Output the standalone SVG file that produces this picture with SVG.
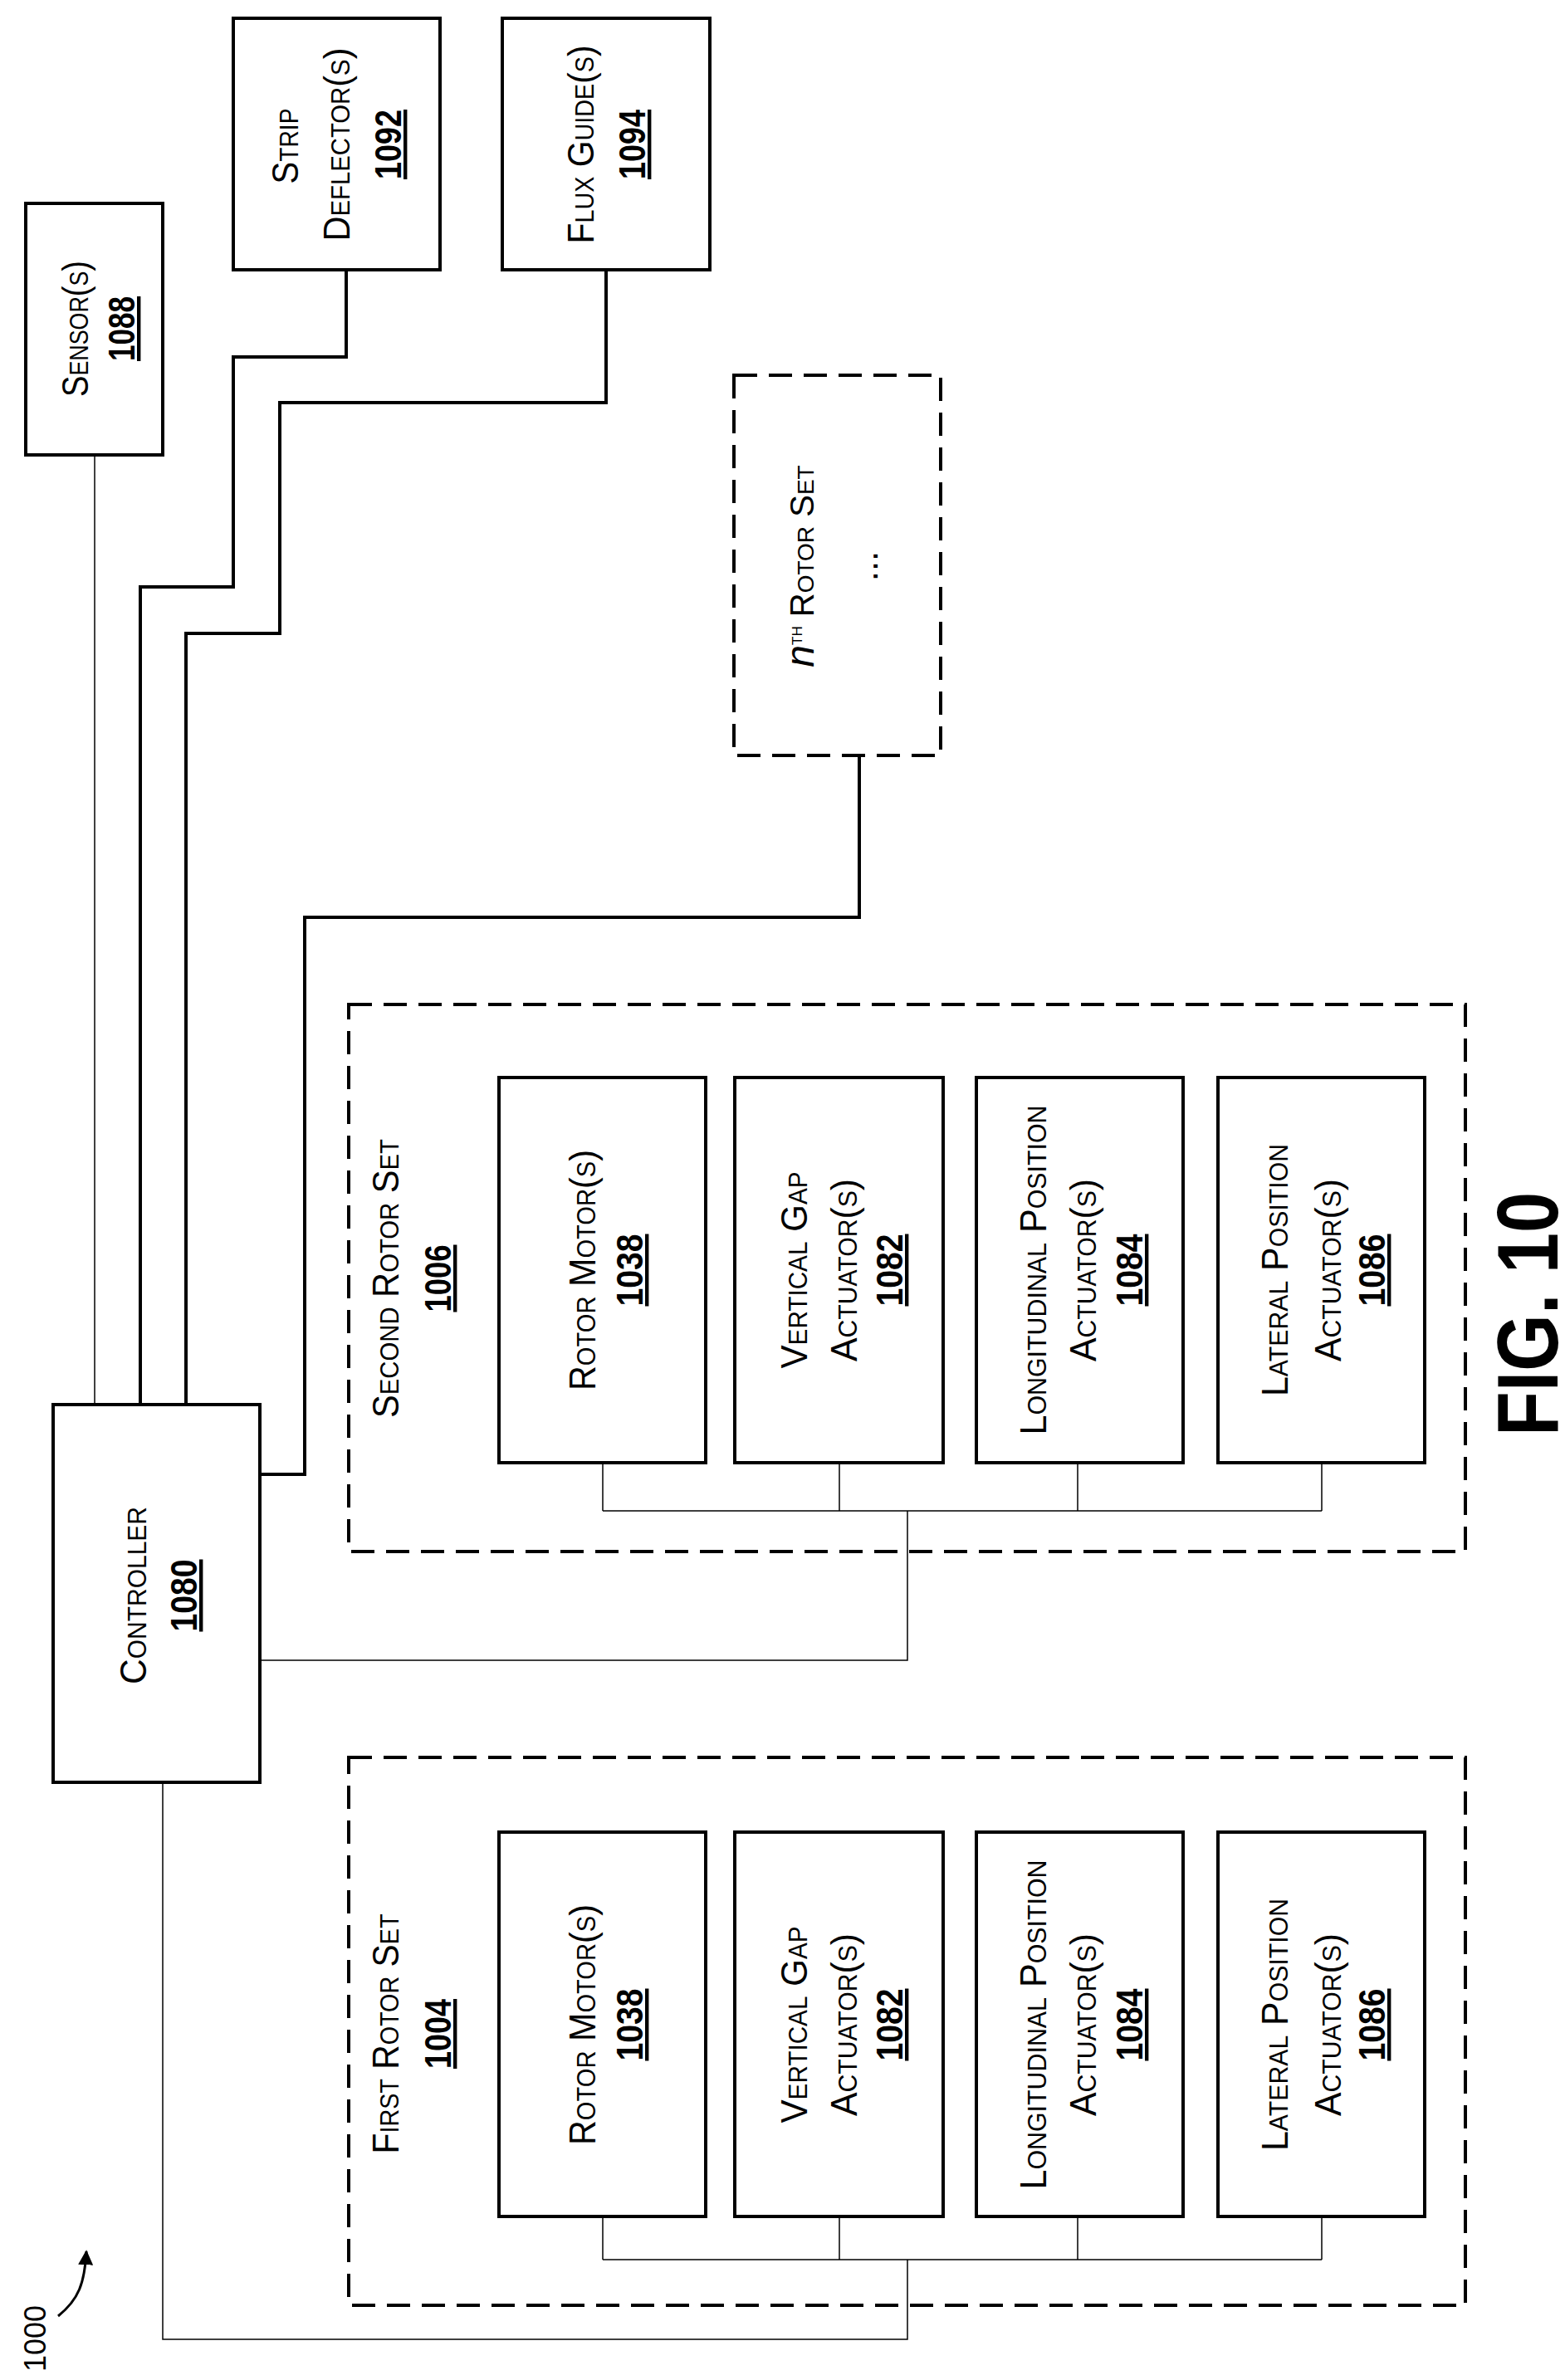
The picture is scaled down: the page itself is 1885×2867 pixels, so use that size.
<svg xmlns="http://www.w3.org/2000/svg" width="1885" height="2867" viewBox="0 0 1885 2867">
<defs>
<style>
.b{fill:#fff;stroke:#000;stroke-width:4}
.d{fill:none;stroke:#000;stroke-width:4;stroke-dasharray:28 14}
.tk{fill:none;stroke:#000;stroke-width:4}
.tn{fill:none;stroke:#000;stroke-width:1.5}
text{font-family:"Liberation Sans",Arial,sans-serif;font-size:44px;fill:#000}
.l{font-variant:small-caps;text-anchor:middle}
.n{font-weight:bold;text-anchor:middle;text-decoration:underline}
</style>
<marker id="ah" viewBox="0 0 10 10" refX="9" refY="5" markerWidth="6" markerHeight="6" orient="auto"><path d="M0,0 L10,5 L0,10 z" fill="#000"/></marker>
</defs>
<rect width="1885" height="2867" fill="#fff"/>
<g id="connectors">
<path class="tn" d="M114,548 V1692"/>
<path class="tk" d="M417,325 V430 H281 V707 H169 V1692"/>
<path class="tk" d="M730,325 V485 H337 V763 H224 V1692"/>
<path class="tk" d="M1035,910 V1105 H367 V1776 H313"/>
<path class="tn" d="M726,1762 V1820 M1011,1762 V1820 M1298,1762 V1820 M1592,1762 V1820 M726,1820 H1592 M1093,1820 V2000 H313"/>
<path class="tn" d="M726,2670 V2722 M1011,2670 V2722 M1298,2670 V2722 M1592,2670 V2722 M726,2722 H1592 M1093,2722 V2818 H196 V2147"/>
</g>
<g id="sensor"><rect class="b" x="31" y="245" width="165" height="303"/>
<text class="l" transform="translate(106,396) rotate(-90)" textLength="164" lengthAdjust="spacingAndGlyphs">Sensor(s)</text>
<text class="n" transform="translate(162,396) rotate(-90)" textLength="78" lengthAdjust="spacingAndGlyphs">1088</text></g>
<g id="strip"><rect class="b" x="281" y="22" width="249" height="303"/>
<text class="l" transform="translate(359,176) rotate(-90)" textLength="91" lengthAdjust="spacingAndGlyphs">Strip</text>
<text class="l" transform="translate(421,174) rotate(-90)" textLength="233" lengthAdjust="spacingAndGlyphs">Deflector(s)</text>
<text class="n" transform="translate(483,174) rotate(-90)" textLength="84" lengthAdjust="spacingAndGlyphs">1092</text></g>
<g id="flux"><rect class="b" x="605" y="22" width="250" height="303"/>
<text class="l" transform="translate(715,174) rotate(-90)" textLength="239" lengthAdjust="spacingAndGlyphs">Flux Guide(s)</text>
<text class="n" transform="translate(777,174) rotate(-90)" textLength="84" lengthAdjust="spacingAndGlyphs">1094</text></g>
<g id="nth"><rect class="d" x="884" y="452" width="249" height="458"/>
<text class="l" transform="translate(980,682) rotate(-90)" style="font-size:40px"><tspan font-style="italic" font-variant="normal" font-size="48">n</tspan><tspan font-size="24" dy="-14">th</tspan><tspan dy="14"> Rotor Set</tspan></text>
<text class="l" transform="translate(1057,682) rotate(-90)">...</text></g>
<g id="controller"><rect class="b" x="64" y="1692" width="249" height="455"/>
<text class="l" transform="translate(176,1922) rotate(-90)" textLength="214" lengthAdjust="spacingAndGlyphs">Controller</text>
<text class="n" transform="translate(237,1922) rotate(-90)" textLength="87" lengthAdjust="spacingAndGlyphs">1080</text></g>
<g id="second-set"><rect class="d" x="420" y="1210" width="1345" height="659"/>
<text class="l" transform="translate(480,1540) rotate(-90)" textLength="336" lengthAdjust="spacingAndGlyphs">Second Rotor Set</text>
<text class="n" transform="translate(543,1540) rotate(-90)" textLength="81" lengthAdjust="spacingAndGlyphs">1006</text></g>
<g id="s2-motor"><rect class="b" x="601" y="1298" width="249" height="464"/>
<text class="l" transform="translate(717,1530) rotate(-90)" textLength="290" lengthAdjust="spacingAndGlyphs">Rotor Motor(s)</text>
<text class="n" transform="translate(774,1530) rotate(-90)" textLength="87" lengthAdjust="spacingAndGlyphs">1038</text></g>
<g id="s2-vgap"><rect class="b" x="885" y="1298" width="251" height="464"/>
<text class="l" transform="translate(972,1530) rotate(-90)" textLength="237" lengthAdjust="spacingAndGlyphs">Vertical Gap</text>
<text class="l" transform="translate(1032,1530) rotate(-90)" textLength="220" lengthAdjust="spacingAndGlyphs">Actuator(s)</text>
<text class="n" transform="translate(1087,1530) rotate(-90)" textLength="87" lengthAdjust="spacingAndGlyphs">1082</text></g>
<g id="s2-long"><rect class="b" x="1176" y="1298" width="249" height="464"/>
<text class="l" transform="translate(1260,1530) rotate(-90)" textLength="397" lengthAdjust="spacingAndGlyphs">Longitudinal Position</text>
<text class="l" transform="translate(1320,1530) rotate(-90)" textLength="220" lengthAdjust="spacingAndGlyphs">Actuator(s)</text>
<text class="n" transform="translate(1376,1530) rotate(-90)" textLength="87" lengthAdjust="spacingAndGlyphs">1084</text></g>
<g id="s2-lat"><rect class="b" x="1467" y="1298" width="249" height="464"/>
<text class="l" transform="translate(1551,1530) rotate(-90)" textLength="304" lengthAdjust="spacingAndGlyphs">Lateral Position</text>
<text class="l" transform="translate(1615,1530) rotate(-90)" textLength="220" lengthAdjust="spacingAndGlyphs">Actuator(s)</text>
<text class="n" transform="translate(1668,1530) rotate(-90)" textLength="87" lengthAdjust="spacingAndGlyphs">1086</text></g>
<g id="first-set"><rect class="d" x="420" y="2117" width="1345" height="660"/>
<text class="l" transform="translate(480,2450) rotate(-90)" textLength="289" lengthAdjust="spacingAndGlyphs">First Rotor Set</text>
<text class="n" transform="translate(543,2450) rotate(-90)" textLength="84" lengthAdjust="spacingAndGlyphs">1004</text></g>
<g id="s1-motor"><rect class="b" x="601" y="2207" width="249" height="463"/>
<text class="l" transform="translate(717,2439) rotate(-90)" textLength="290" lengthAdjust="spacingAndGlyphs">Rotor Motor(s)</text>
<text class="n" transform="translate(774,2439) rotate(-90)" textLength="87" lengthAdjust="spacingAndGlyphs">1038</text></g>
<g id="s1-vgap"><rect class="b" x="885" y="2207" width="251" height="463"/>
<text class="l" transform="translate(972,2439) rotate(-90)" textLength="237" lengthAdjust="spacingAndGlyphs">Vertical Gap</text>
<text class="l" transform="translate(1032,2439) rotate(-90)" textLength="220" lengthAdjust="spacingAndGlyphs">Actuator(s)</text>
<text class="n" transform="translate(1087,2439) rotate(-90)" textLength="87" lengthAdjust="spacingAndGlyphs">1082</text></g>
<g id="s1-long"><rect class="b" x="1176" y="2207" width="249" height="463"/>
<text class="l" transform="translate(1260,2439) rotate(-90)" textLength="397" lengthAdjust="spacingAndGlyphs">Longitudinal Position</text>
<text class="l" transform="translate(1320,2439) rotate(-90)" textLength="220" lengthAdjust="spacingAndGlyphs">Actuator(s)</text>
<text class="n" transform="translate(1376,2439) rotate(-90)" textLength="87" lengthAdjust="spacingAndGlyphs">1084</text></g>
<g id="s1-lat"><rect class="b" x="1467" y="2207" width="249" height="463"/>
<text class="l" transform="translate(1551,2439) rotate(-90)" textLength="304" lengthAdjust="spacingAndGlyphs">Lateral Position</text>
<text class="l" transform="translate(1615,2439) rotate(-90)" textLength="220" lengthAdjust="spacingAndGlyphs">Actuator(s)</text>
<text class="n" transform="translate(1668,2439) rotate(-90)" textLength="87" lengthAdjust="spacingAndGlyphs">1086</text></g>
<g id="fig"><text transform="translate(1876,1583) rotate(-90)" text-anchor="middle" font-weight="bold" style="font-size:104px" textLength="294" lengthAdjust="spacingAndGlyphs">FIG. 10</text></g>
<g id="ref"><text transform="translate(55,2817) rotate(-90)" text-anchor="middle" style="font-size:36px">1000</text>
<path d="M70,2790 C95,2770 102,2750 104,2712" fill="none" stroke="#000" stroke-width="3" marker-end="url(#ah)"/></g>
</svg>
